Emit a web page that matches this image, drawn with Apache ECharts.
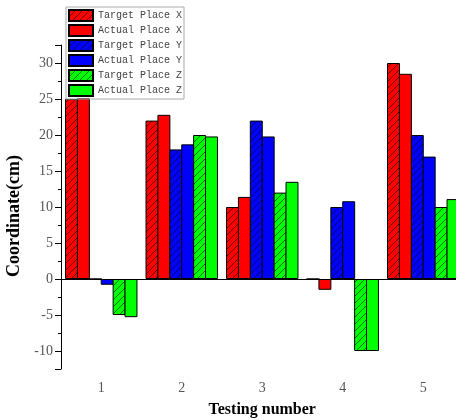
<!DOCTYPE html>
<html>
<head>
<meta charset="utf-8">
<script src="https://cdn.jsdelivr.net/npm/echarts@6/dist/echarts.min.js"></script>
<style>
    html, body { margin: 0; padding: 0; background: #fff; }
    #main { width: 456px; height: 420px; }
</style>
</head>
<body>
<div id="main"></div>
<script>
// 数据
var testNumbers = ['1', '2', '3', '4', '5'];
var targetX = [25, 22, 10, 0, 30];
var actualX = [25.1, 22.8, 11.4, -1.5, 28.5];
var targetY = [0, 18, 22, 10, 20];
var actualY = [-0.8, 18.7, 19.8, 10.8, 17];
var targetZ = [-5, 20, 12, -10, 10];
var actualZ = [-5.3, 19.8, 13.5, -10, 11.1];

// 斜线填充
function hatch(color) {
    var s = 7;
    var c = document.createElement('canvas');
    c.width = s;
    c.height = s;
    var ctx = c.getContext('2d');
    ctx.fillStyle = color;
    ctx.fillRect(0, 0, s, s);
    ctx.strokeStyle = 'rgba(0,0,0,0.7)';
    ctx.lineWidth = 0.8;
    ctx.beginPath();
    ctx.moveTo(0, s); ctx.lineTo(s, 0);
    ctx.moveTo(-1, 1); ctx.lineTo(1, -1);
    ctx.moveTo(s - 1, s + 1); ctx.lineTo(s + 1, s - 1);
    ctx.stroke();
    return {image: c, repeat: 'repeat'};
}

function bar(name, data, color) {
    return {
        name: name,
        type: 'bar',
        data: data,
        barGap: '-8%',
        barCategoryGap: '10%',
        itemStyle: {
            color: color,
            borderColor: '#000',
            borderWidth: 1
        }
    };
}

var series = [
    bar('Target Place X', targetX, hatch('#ff0000')),
    bar('Actual Place X', actualX, '#ff0000'),
    bar('Target Place Y', targetY, hatch('#0000ff')),
    bar('Actual Place Y', actualY, '#0000ff'),
    bar('Target Place Z', targetZ, hatch('#00ff00')),
    bar('Actual Place Z', actualZ, '#00ff00')
];
// 零线
series[0].markLine = {
    silent: true,
    symbol: 'none',
    label: {show: false},
    lineStyle: {color: '#000', width: 1, type: 'solid'},
    data: [{yAxis: 0}]
};

echarts.init(document.getElementById('main')).setOption({
    animation: false,
    legend: {
        orient: 'vertical',
        left: 66,
        top: 7,
        padding: [2, 2, 2, 2],
        itemWidth: 24,
        itemHeight: 11,
        itemGap: 2,
        borderColor: '#aaa',
        borderWidth: 1,
        icon: 'rect',
        textStyle: {
            fontFamily: 'Liberation Mono',
            fontSize: 10,
            color: '#444'
        }
    },
    grid: {
        left: 61,
        top: 45,
        bottom: 51,
        right: -7.5,
        outerBoundsMode: 'none',
        containLabel: false
    },
    xAxis: [
        {
            type: 'category',
            data: testNumbers,
            name: 'Testing number',
            nameLocation: 'middle',
            nameGap: 33,
            nameTextStyle: {
                fontFamily: 'Liberation Serif',
                fontWeight: 'bold',
                fontSize: 16,
                color: '#000'
            },
            axisLine: {lineStyle: {color: '#000', width: 1}},
            axisTick: {alignWithLabel: true, length: 6, lineStyle: {color: '#000'}},
            axisLabel: {
                margin: 12,
                fontFamily: 'Liberation Serif',
                fontSize: 14,
                color: '#555'
            }
        },
        {
            type: 'category',
            data: testNumbers,
            position: 'bottom',
            axisLine: {show: false},
            axisTick: {length: 3, lineStyle: {color: '#000'}},
            axisLabel: {show: false}
        }
    ],
    yAxis: {
        type: 'value',
        min: -12.5,
        max: 32.5,
        splitNumber: 9,
        name: 'Coordinate(cm)',
        nameLocation: 'middle',
        nameGap: 30,
        nameTextStyle: {
            fontFamily: 'Liberation Serif',
            fontWeight: 'bold',
            fontSize: 18,
            color: '#000',
            padding: [0, 18, 0, 0]
        },
        axisLine: {show: true, lineStyle: {color: '#000', width: 1}},
        axisTick: {show: true, length: 6, lineStyle: {color: '#000'}},
        minorTick: {show: true, splitNumber: 2, length: 3, lineStyle: {color: '#000'}},
        splitLine: {show: false},
        axisLabel: {
            showMinLabel: false,
            showMaxLabel: false,
            margin: 8,
            fontFamily: 'Liberation Serif',
            fontSize: 14,
            color: '#555'
        }
    },
    series: series
});
</script>
</body>
</html>
